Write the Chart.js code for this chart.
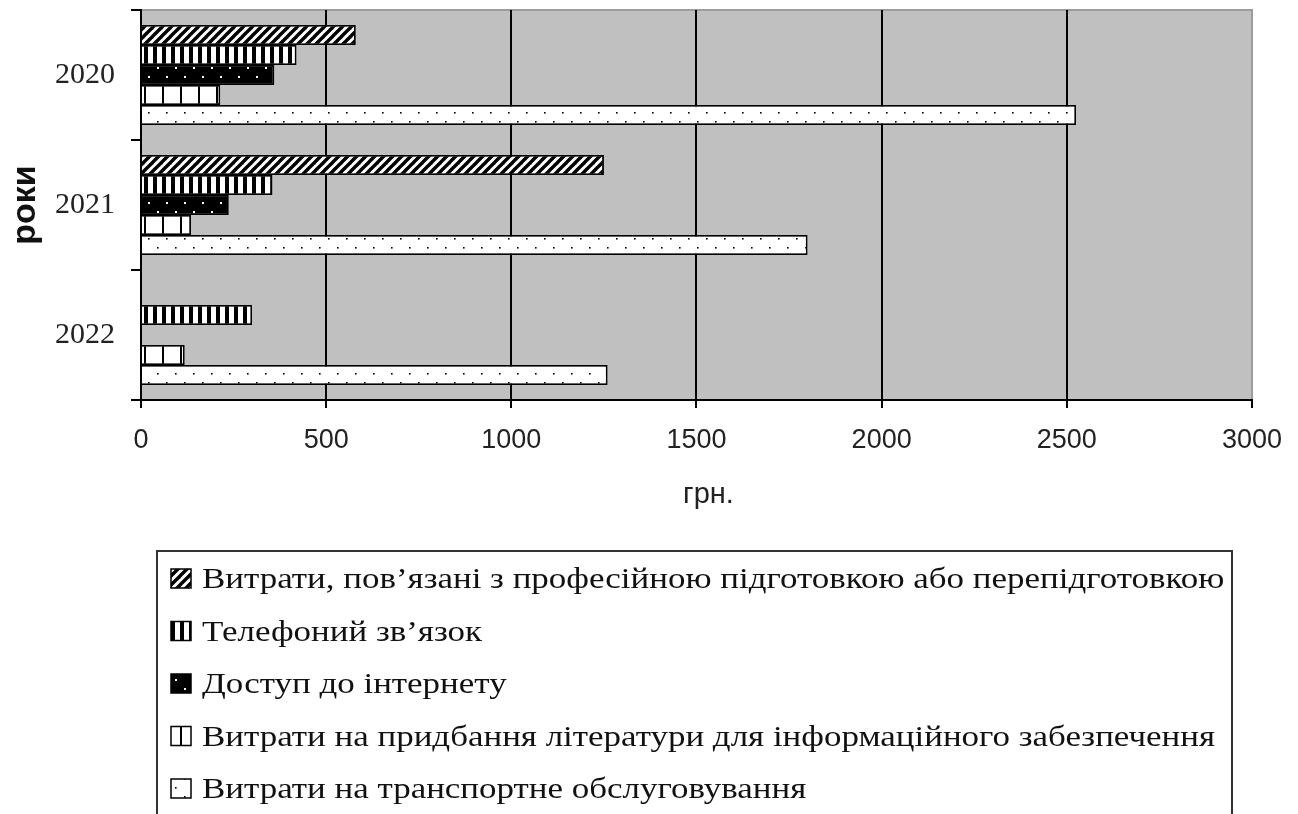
<!DOCTYPE html>
<html>
<head>
<meta charset="utf-8">
<script src="https://cdn.jsdelivr.net/npm/chart.js@4/dist/chart.umd.min.js"></script>
<style>
  html, body { margin: 0; padding: 0; background: #fff; }
  #wrap { width: 1298px; height: 814px; }
</style>
</head>
<body>
<div id="wrap"><canvas id="c" width="1298" height="814"></canvas></div>
<script>
// Years on the category axis
const years = ['2020', '2021', '2022'];

// Expense series, грн.
const training   = [580, 1250, 0];    // професійна підготовка / перепідготовка
const phone      = [420, 355, 300];   // телефонний зв'язок
const internet   = [360, 237, 0];     // доступ до інтернету
const literature = [214, 135, 118];   // література для інформаційного забезпечення
const transport  = [2525, 1800, 1260];// транспортне обслуговування

const seriesLabels = [
  'Витрати, пов\u2019язані з професійною підготовкою або перепідготовкою',
  'Телефоний зв\u2019язок',
  'Доступ до інтернету',
  'Витрати на придбання літератури для інформаційного забезпечення',
  'Витрати на транспортне обслуговування'
];

// Value axis ticks
const xTicks = [0, 500, 1000, 1500, 2000, 2500, 3000];
const xTitle = 'грн.';
const yTitle = 'роки';

// ---- monochrome fill patterns ----
function makeTile(w, h, paint) {
  const c = document.createElement('canvas');
  c.width = w; c.height = h;
  const g = c.getContext('2d');
  paint(g, w, h);
  return g.createPattern(c, 'repeat');
}
const patHatch = makeTile(9, 9, (g, w, h) => {
  g.fillStyle = '#fff'; g.fillRect(0, 0, w, h);
  g.strokeStyle = '#000'; g.lineWidth = 3.4;
  for (const o of [-9, 0, 9]) {
    g.beginPath(); g.moveTo(o - 2, h + 2); g.lineTo(o + w + 2, -2); g.stroke();
  }
});
const patVertical = makeTile(9, 4, (g, w, h) => {
  g.fillStyle = '#fff'; g.fillRect(0, 0, w, h);
  g.fillStyle = '#000'; g.fillRect(0, 0, 4, h);
});
const patDarkDots = makeTile(18, 18, (g, w, h) => {
  g.fillStyle = '#000'; g.fillRect(0, 0, w, h);
  g.fillStyle = '#fff';
  g.fillRect(4, 4, 2, 2); g.fillRect(13, 13, 2, 2);
});
const patGrid = makeTile(18, 4, (g, w, h) => {
  g.fillStyle = '#fff'; g.fillRect(0, 0, w, h);
  g.fillStyle = '#000'; g.fillRect(0, 0, 2, h);
});
const patLightDots = makeTile(18, 18, (g, w, h) => {
  g.fillStyle = '#fff'; g.fillRect(0, 0, w, h);
  g.fillStyle = '#000';
  g.fillRect(4, 4, 1.6, 1.6); g.fillRect(13, 13, 1.6, 1.6);
});

const seriesData = [training, phone, internet, literature, transport];
const seriesFills = [patHatch, patVertical, patDarkDots, patGrid, patLightDots];

const datasets = seriesData.map((d, i) => ({
  label: seriesLabels[i],
  data: d,
  backgroundColor: seriesFills[i],
  borderColor: '#000',
  borderWidth: 1.8,
  inflateAmount: 0,
  categoryPercentage: 0.77,
  barPercentage: 1.0
}));

// Grey plot area with a soft grey frame on top and right
const plotBackground = {
  id: 'plotBackground',
  beforeDraw(chart) {
    const { ctx, chartArea: a } = chart;
    ctx.save();
    ctx.fillStyle = '#c0c0c0';
    ctx.fillRect(a.left, a.top, a.right - a.left, a.bottom - a.top);
    ctx.strokeStyle = '#9c9c9c';
    ctx.lineWidth = 2;
    ctx.beginPath();
    ctx.moveTo(a.left, a.top);
    ctx.lineTo(a.right, a.top);
    ctx.lineTo(a.right, a.bottom);
    ctx.stroke();
    ctx.restore();
  }
};

// Value-axis caption and a framed legend, one series per row under the chart
const boxLegend = {
  id: 'boxLegend',
  afterDraw(chart) {
    const ctx = chart.ctx;
    const a = chart.chartArea;
    ctx.save();
    ctx.font = '29px "Liberation Sans", Arial, sans-serif';
    ctx.fillStyle = '#222';
    ctx.textAlign = 'center';
    ctx.textBaseline = 'alphabetic';
    ctx.fillText(xTitle, (a.left + a.right) / 2 + 12, 503);

    ctx.textAlign = 'left';
    ctx.strokeStyle = '#333';
    ctx.lineWidth = 2;
    ctx.strokeRect(157, 551, 1075, 300);
    ctx.font = '30px "Liberation Serif", "Times New Roman", serif';
    chart.data.datasets.forEach((ds, i) => {
      const base = 588 + i * 52.5;
      ctx.fillStyle = ds.backgroundColor;
      ctx.fillRect(171, base - 19, 20, 19);
      ctx.strokeStyle = '#000';
      ctx.lineWidth = 1.5;
      ctx.strokeRect(171, base - 19, 20, 19);
      ctx.save();
      ctx.translate(202, base);
      ctx.scale(1.165, 1);
      ctx.fillStyle = '#111';
      ctx.fillText(ds.label, 0, 0);
      ctx.restore();
    });
    ctx.restore();
  }
};

new Chart(document.getElementById('c'), {
  type: 'bar',
  data: { labels: years, datasets },
  options: {
    indexAxis: 'y',
    responsive: false,
    animation: false,
    layout: { padding: { top: 10, right: 46, left: 0, bottom: 294 } },
    plugins: {
      legend: { display: false },
      tooltip: { enabled: false }
    },
    scales: {
      x: {
        type: 'linear',
        min: 0,
        max: 3000,
        afterBuildTicks(scale) { scale.ticks = xTicks.map(v => ({ value: v })); },
        afterFit(scale) { scale.height = 120; },
        ticks: {
          callback: (v) => String(v),
          font: { family: '"Liberation Sans", Arial, sans-serif', size: 27 },
          color: '#222',
          padding: 16,
          maxRotation: 0
        },
        grid: {
          color: (c) => (c.tick && c.tick.value === 3000 ? '#9c9c9c' : '#000'),
          tickColor: '#000',
          lineWidth: 2,
          tickLength: 8
        },
        border: { color: '#000', width: 2 }
      },
      y: {
        afterFit(scale) {
          scale.width = 141;
          scale.paddingTop = 0;
          scale.paddingBottom = 0;
        },
        ticks: {
          font: { family: '"Liberation Serif", "Times New Roman", serif', size: 30 },
          color: '#222',
          padding: 16
        },
        grid: {
          offset: true,
          drawOnChartArea: false,
          color: '#000',
          lineWidth: 2,
          tickLength: 10
        },
        border: { color: '#000', width: 2 },
        title: {
          display: true,
          text: yTitle,
          font: { family: '"Liberation Sans", Arial, sans-serif', size: 34, weight: 'bold' },
          color: '#111',
          padding: { top: 5, bottom: 0 }
        }
      }
    }
  },
  plugins: [plotBackground, boxLegend]
});
</script>
</body>
</html>
